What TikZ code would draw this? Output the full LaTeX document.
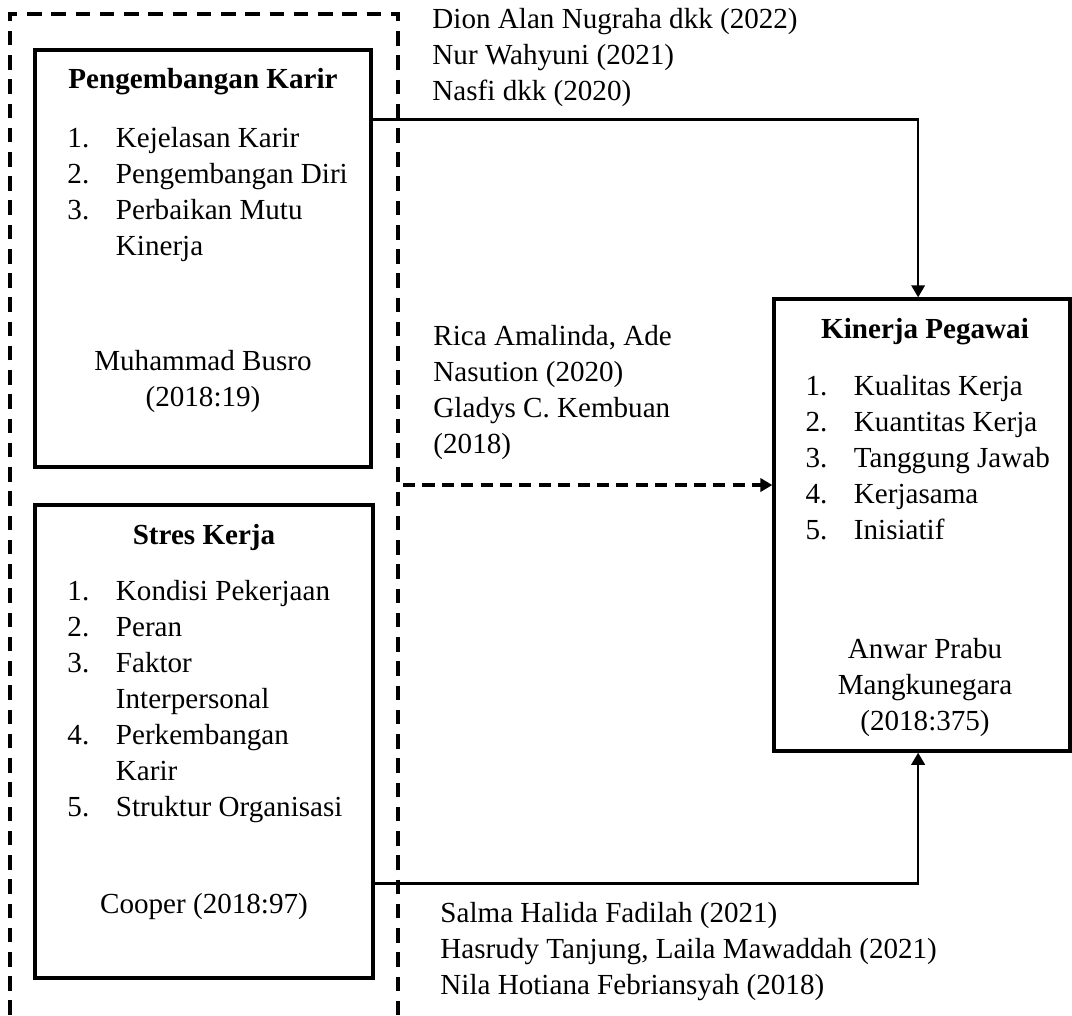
\documentclass[tikz,border=0pt]{standalone}
\usepackage{fontspec}
\setmainfont{Liberation Serif}
\usetikzlibrary{arrows.meta,positioning,fit}
\newcommand{\numlist}[1]{\begin{tabular}[t]{@{}p{20pt}@{}l@{}}#1\end{tabular}}
\newcommand{\leftlines}[1]{\begin{tabular}[t]{@{}l@{}}#1\end{tabular}}
\newcommand{\midlines}[1]{\begin{tabular}[t]{@{}c@{}}#1\end{tabular}}
\tikzset{
  varbox/.style={rectangle, draw=black, line width=1.35pt, inner sep=0pt},
  txt/.style={inner sep=0pt, anchor=base west, font=\fontsize{12}{14.85}\selectfont},
  ctxt/.style={txt, anchor=base},
  boxtitle/.style={ctxt, font=\fontsize{12}{14.85}\selectfont\bfseries},
  frameline/.style={line width=1.4pt, dash pattern=on 6pt off 4pt},
  arrow/.style={-{Triangle[length=5pt,width=5.5pt]}, line width=1.1pt},
  dasharrow/.style={arrow, line width=1.4pt, dash pattern=on 5pt off 3pt}
}

\begin{document}
\begin{tikzpicture}[x=0.4125pt, y=-0.4125pt]
\useasboundingbox (0,0) rectangle (1072,1015);
% dashed frame round the two independent variables
\draw[frameline] (10,1015) -- (10,14) -- (398,14) -- (398,1015);
% variable boxes
\node[varbox, fit={(35,50) (371,467)}] (karir) {};
\node[varbox, fit={(35,505) (373,978)}] (stres) {};
\node[varbox, fit={(774,299) (1070,751)}] (kinerja) {};
% box contents
\node[boxtitle] (karirtitle) at (203,88) {Pengembangan Karir};
\node[txt] (karirlist) at (67,147) {\numlist{1. & Kejelasan Karir\\ 2. & Pengembangan Diri\\ 3. & Perbaikan Mutu\\ & Kinerja}};
\node[ctxt] (karirsrc) at (203,370) {\midlines{Muhammad Busro\\ (2018:19)}};
\node[boxtitle] (strestitle) at (204,544) {Stres Kerja};
\node[txt] (streslist) at (67,600) {\numlist{1. & Kondisi Pekerjaan\\ 2. & Peran\\ 3. & Faktor\\ & Interpersonal\\ 4. & Perkembangan\\ & Karir\\ 5. & Struktur Organisasi}};
\node[ctxt] (stressrc) at (204,913) {Cooper (2018:97)};
\node[boxtitle] (kinerjatitle) at (925,338) {Kinerja Pegawai};
\node[txt] (kinerjalist) at (805,395) {\numlist{1. & Kualitas Kerja\\ 2. & Kuantitas Kerja\\ 3. & Tanggung Jawab\\ 4. & Kerjasama\\ 5. & Inisiatif}};
\node[ctxt] (kinerjasrc) at (925,658) {\midlines{Anwar Prabu\\ Mangkunegara\\ (2018:375)}};
% references
\node[txt] (refkarir) at (432,28) {\leftlines{Dion Alan Nugraha dkk (2022)\\ Nur Wahyuni (2021)\\ Nasfi dkk (2020)}};
\node[txt] (refsimultan) at (433,345) {\leftlines{Rica Amalinda, Ade\\ Nasution (2020)\\ Gladys C. Kembuan\\ (2018)}};
\node[txt] (refstres) at (440,922) {\leftlines{Salma Halida Fadilah (2021)\\ Hasrudy Tanjung, Laila Mawaddah (2021)\\ Nila Hotiana Febriansyah (2018)}};
% connectors
\coordinate (simultan) at (403,485);
\draw[arrow] (karir.north east) ++(0,71) -| ([xshift=-1.6pt]kinerja.north);
\draw[arrow] (stres.south east) ++(0,-96) -| ([xshift=-1.6pt]kinerja.south);
\draw[dasharrow] (simultan) -- (simultan -| kinerja.west);
\end{tikzpicture}
\end{document}
